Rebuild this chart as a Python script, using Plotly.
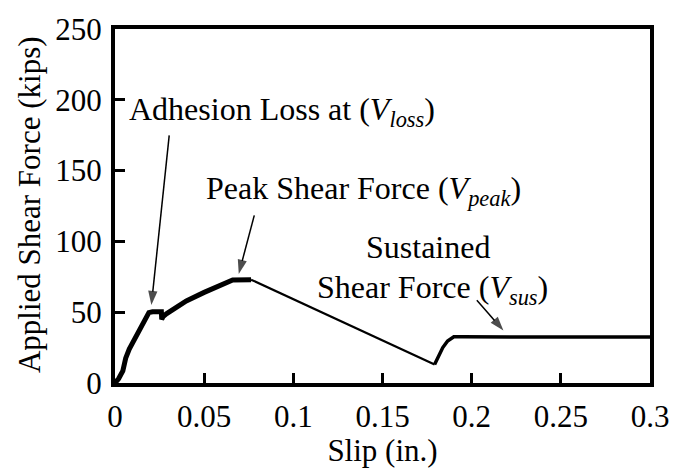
import plotly.graph_objects as go

# Rising branch up to peak
slip_rise = [0.0, 0.002, 0.0044, 0.006, 0.008, 0.0117, 0.0153, 0.019, 0.021, 0.026,
             0.0262, 0.027, 0.029, 0.035, 0.040, 0.050, 0.060, 0.066, 0.0763]
force_rise = [0, 3, 8.6, 17.5, 24, 33, 42, 49.7, 50.3, 50.3,
              45, 47, 49, 54, 58, 64, 69.5, 72.8, 73]
# Descending branch after peak
slip_desc = [0.0763, 0.1792]
force_desc = [73, 13]
# Recovery and sustained branch
slip_sus = [0.1792, 0.181, 0.1838, 0.1865, 0.190, 0.195, 0.22, 0.25, 0.3]
force_sus = [13, 17.5, 25, 29.7, 32.6, 32.6, 32.4, 32.4, 32.4]

x_ticks = [0, 0.05, 0.1, 0.15, 0.2, 0.25, 0.3]
x_tick_labels = ["0", "0.05", "0.1", "0.15", "0.2", "0.25", "0.3"]
y_ticks = [0, 50, 100, 150, 200, 250]

# annotation arrows: tail (x, y) -> tip (x, y)
arrow_tail_x = [0.0304, 0.0781, 0.2029]
arrow_tail_y = [174.9, 118.4, 58.5]
arrow_tip_x = [0.0204, 0.0694, 0.2178]
arrow_tip_y = [55.0, 77.0, 37.0]

FONT = "Liberation Serif"

fig = go.Figure()
fig.add_trace(go.Scatter(x=slip_rise, y=force_rise, mode="lines",
                         line=dict(color="black", width=5), showlegend=False))
fig.add_trace(go.Scatter(x=slip_desc, y=force_desc, mode="lines",
                         line=dict(color="black", width=2.2), showlegend=False))
fig.add_trace(go.Scatter(x=slip_sus, y=force_sus, mode="lines",
                         line=dict(color="black", width=3.5), showlegend=False))

for x0, y0, x1, y1 in zip(arrow_tail_x, arrow_tail_y, arrow_tip_x, arrow_tip_y):
    fig.add_trace(go.Scatter(
        x=[x0, x1], y=[y0, y1], mode="lines+markers",
        line=dict(color="black", width=1.5),
        marker=dict(symbol="arrow", size=[0, 15], angleref="previous",
                    color="black", line=dict(width=0)),
        showlegend=False, hoverinfo="skip"))

labels = [
    ("Adhesion Loss at (<i>V</i><sub><i>loss</i></sub>)", 0.0068, 192, "left", "middle"),
    ("Peak Shear Force (<i>V</i><sub><i>peak</i></sub>)", 0.0498, 136, "left", "middle"),
    ("Sustained", 0.1755, 81.8, "center", "bottom"),
    ("Shear Force (<i>V</i><sub><i>sus</i></sub>)", 0.178, 81.6, "center", "top"),
]
for txt, x, y, anc, yanc in labels:
    fig.add_annotation(x=x, y=y, xref="x", yref="y", text=txt, showarrow=False,
                       xanchor=anc, yanchor=yanc,
                       font=dict(family=FONT, size=32, color="black"))

# y-axis title placed precisely
fig.add_annotation(x=-0.161, y=0.505, xref="paper", yref="paper",
                   text="Applied Shear Force (kips)", textangle=-90,
                   showarrow=False, xanchor="center", yanchor="middle",
                   font=dict(family=FONT, size=31, color="black"))

axis_common = dict(showline=True, linecolor="black", linewidth=4, mirror=True,
                   ticks="inside", ticklen=10, tickwidth=3, tickcolor="black",
                   showgrid=False, zeroline=False,
                   tickfont=dict(family=FONT, size=31, color="black"))

fig.update_layout(
    width=681, height=468,
    margin=dict(l=115, r=23, t=19, b=76),
    paper_bgcolor="white", plot_bgcolor="white",
    font=dict(family=FONT, color="black"),
    xaxis=dict(range=[0, 0.3], tickvals=x_ticks, ticktext=x_tick_labels,
               ticklabelstandoff=3,
               title=dict(text="Slip (in.)", font=dict(family=FONT, size=31, color="black"),
                          standoff=0),
               **axis_common),
    yaxis=dict(range=[0, 250.001], tickvals=y_ticks, ticklabelstandoff=3,
               **axis_common),
)

fig.write_html("out.html")
